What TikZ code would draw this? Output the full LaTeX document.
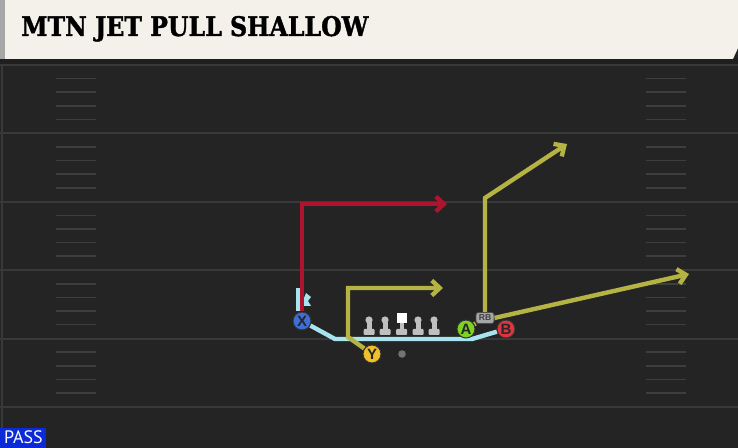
\documentclass[tikz,border=0pt]{standalone}
\usepackage{fontspec}
\setsansfont{Liberation Sans}
\newfontfamily\titlefont{DejaVu Serif}[BoldFeatures={FakeBold=1.5}]
\newfontfamily\tagfont{PT Sans}
\usetikzlibrary{arrows.meta}
\definecolor{field_dark}{HTML}{242424}
\definecolor{field_line}{HTML}{393939}
\definecolor{hash_line}{HTML}{3E3E3E}
\definecolor{title_cream}{HTML}{F4F1EA}
\definecolor{route_red}{HTML}{B0132E}
\definecolor{route_yellow}{HTML}{B4B343}
\definecolor{route_blue}{HTML}{A8E4F0}
\definecolor{player_blue}{HTML}{3F6FD6}
\definecolor{player_yellow}{HTML}{F0C02A}
\definecolor{player_green}{HTML}{7DD321}
\definecolor{player_red}{HTML}{E0353F}
\definecolor{pass_blue}{HTML}{0B2BD8}
\pgfdeclarelayer{field}
\pgfdeclarelayer{routes}
\pgfsetlayers{field,routes,main}

\begin{document}
\begin{tikzpicture}[x=0.5pt, y=-0.5pt, >={Straight Barb[length=4pt, width=7.5pt]}]
    % Styles
    \tikzstyle{player} = [circle, draw=black!80, line width=0.5pt, minimum size=9pt, inner sep=0pt, text=black!85, font=\sffamily\bfseries\fontsize{7.5}{7.5}\selectfont]
    \tikzstyle{rbtag} = [rectangle, rounded corners=1.2pt, draw=black!70, fill=black!35, minimum width=9pt, minimum height=5.5pt, inner sep=0.4pt, text=black!75, font=\sffamily\bfseries\fontsize{4.3}{4.3}\selectfont]
    \tikzstyle{ball} = [circle, fill=black!55, minimum size=3.8pt, inner sep=0pt]
    \tikzstyle{route} = [line width=2.2pt, line join=miter]
    \tikzstyle{lineman} = [fill=black!25]

    \useasboundingbox (0,0) rectangle (738,448);

    % Field
    \begin{pgfonlayer}{field}
        \fill[field_dark] (0,0) rectangle (738,448);
        \foreach \i in {0,...,5}
            \draw[field_line, line width=1pt] (0,65+68.4*\i) -- (738,65+68.4*\i);
        \foreach \i in {0,...,4}
            \foreach \k in {1,...,4} {
                \draw[hash_line, line width=0.8pt] (56,65+68.4*\i+13.6*\k) -- (96,65+68.4*\i+13.6*\k);
                \draw[hash_line, line width=0.8pt] (646,65+68.4*\i+13.6*\k) -- (686,65+68.4*\i+13.6*\k);
            }
        \draw[field_line, line width=0.8pt] (2,64) -- (2,448);
        \fill[black!88] (0,58) rectangle (738,64);
        \fill[title_cream] (0,0) -- (738,0) -- (738,48) -- (733,59) -- (0,59) -- cycle;
        \fill[black!35] (0,0) rectangle (5,59);
    \end{pgfonlayer}

    % Nodes: Title and tag
    \node[anchor=south west, inner sep=0pt] (title) at (21,42) {\resizebox{173.5pt}{10pt}{\titlefont\bfseries MTN JET PULL SHALLOW}};
    \node[anchor=south west, fill=pass_blue, minimum width=23pt, minimum height=10pt, inner sep=0pt, text=white, font=\tagfont\fontsize{9}{9}\selectfont] (pass) at (0,448) {PASS};

    % Nodes: Players
    \node[player, fill=player_blue] (X) at (302,321) {X};
    \node[player, fill=player_yellow] (Y) at (372,354) {Y};
    \node[player, fill=player_green] (A) at (466,329) {A};
    \node[player, fill=player_red] (B) at (506,329) {B};
    \node[rbtag] (RB) at (485,318) {RB};
    \node[ball] (ball) at (402,354) {};

    % Offensive line
    \foreach \x in {369,385,418,434} {
        \fill[lineman] (\x,320) circle (1.8pt);
        \fill[lineman] (\x-2.5,320) rectangle (\x+2.5,330);
        \fill[lineman, rounded corners=0.5pt] (\x-5.5,329) rectangle (\x+5.5,335);
    }
    \fill[white] (396.5,313.5) rectangle (406.5,323);
    \fill[lineman] (399.5,323) rectangle (403.5,330);
    \fill[lineman, rounded corners=0.5pt] (396,329) rectangle (407,335);

    % Routes
    \begin{pgfonlayer}{routes}
        % Jet motion: X
        \draw[route, route_blue] (X) -- (335,339) -- (472,339) -- (B);
        \draw[route, route_blue] ([xshift=-2pt]X.north) -- ++(0,-23);
        \fill[route_blue] (301,296) -- (304,298) -- (306,293) -- (311,297) -- (308,301) -- (311,306) -- (301,306) -- cycle;
        \draw[route, route_red, ->] (X.north) -- (302,204) -- (447,204);

        % Shallow: Y
        \draw[route, route_yellow, ->] (Y) -- (348,337) -- (348,288) -- (443,288);

        % Backfield: A and RB
        \draw[route, route_yellow] (A) -- (RB);
        \draw[route, route_yellow, ->] (RB.north) -- (485,198) -- (567,144);
        \draw[route, route_yellow, ->] (RB.east) -- (689,274);
    \end{pgfonlayer}
\end{tikzpicture}
\end{document}
